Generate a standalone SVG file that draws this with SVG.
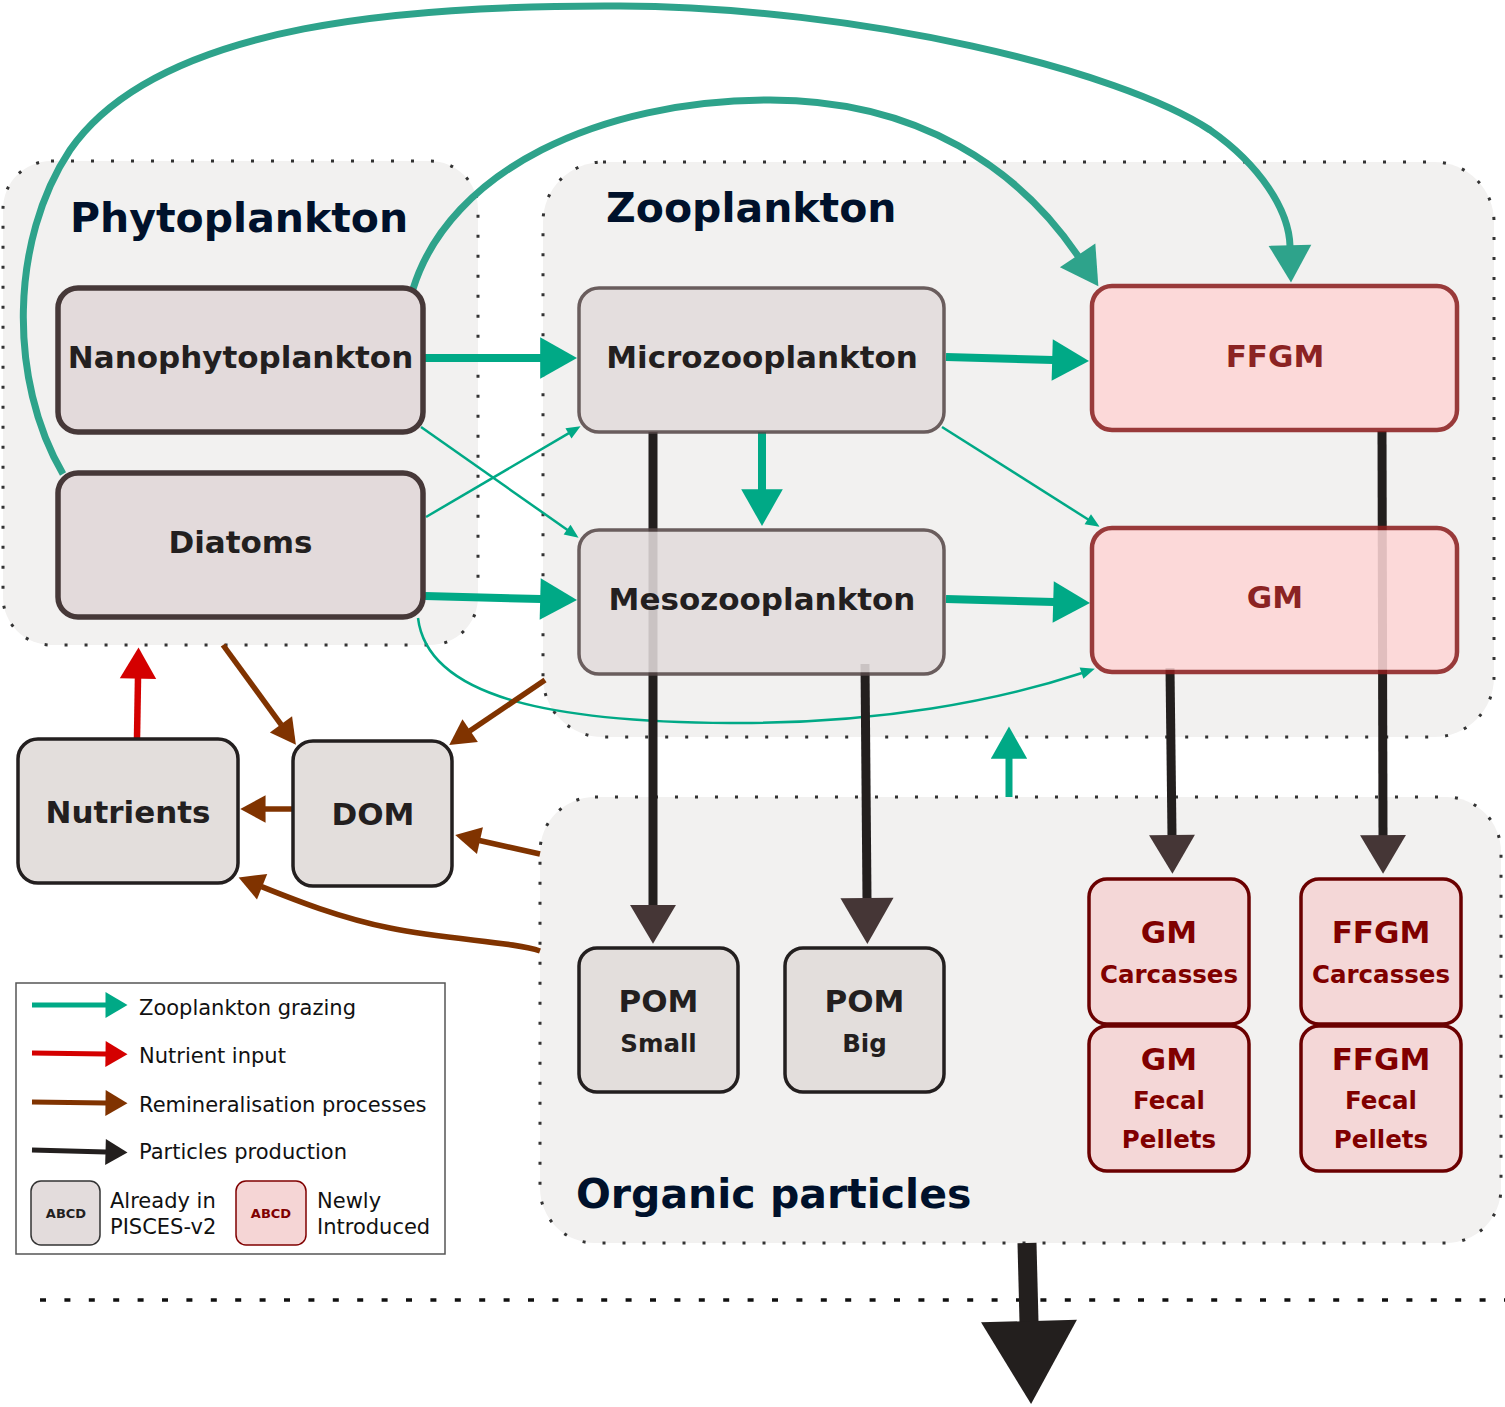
<svg xmlns="http://www.w3.org/2000/svg" width="1505" height="1407" viewBox="0 0 1505 1407">
<style>
.grp{fill:#f2f1f0;stroke:#333;stroke-width:3;stroke-dasharray:3 17}
.title{font-family:"DejaVu Sans",Verdana,sans-serif;font-weight:bold;font-size:41px;fill:#00112b}
.lbl{font-family:"DejaVu Sans",Verdana,sans-serif;font-weight:bold;font-size:31px;fill:#231f1f;text-anchor:middle}
.sub{font-size:24.5px}
.phy{fill:#e3dadb;stroke:#463838;stroke-width:5.5}
.zoo{fill:#e3dcdc;stroke:#564848;stroke-width:3.5;opacity:0.87}
.new{fill:#fed6d6;stroke:#8c2020;stroke-width:4.5;opacity:0.87}
.old{fill:#e3dedc;stroke:#231f1f;stroke-width:3.5}
.newp{fill:#f4d7d7;stroke:#6b0000;stroke-width:3.5}
.rtxt{fill:#8b2323}
.ptxt{fill:#800000}
.c{fill:none;stroke-linecap:butt}
.cur{stroke:#2ea38b;stroke-width:7}
.grn{stroke:#00a986;stroke-width:8}
.thin{stroke:#00a986;stroke-width:2.5}
.red{stroke:#d40000;stroke-width:6.5}
.brn{stroke:#803300;stroke-width:5.5}
.blk{stroke:#231f1e;stroke-width:9}
.leg{font-family:"DejaVu Sans",Verdana,sans-serif;font-size:21px;fill:#111}
</style>
<defs>
<marker id="ah-cur" markerUnits="strokeWidth" markerWidth="5.3" markerHeight="6.1" refX="0.1" refY="3.05" orient="auto" overflow="visible"><path d="M0,0 L5.3,3.05 L0,6.1 z" fill="#2ea38b"/></marker>
<marker id="ah-grn" markerUnits="strokeWidth" markerWidth="4.6" markerHeight="5.2" refX="0.1" refY="2.6" orient="auto" overflow="visible"><path d="M0,0 L4.6,2.6 L0,5.2 z" fill="#00a986"/></marker>
<marker id="ah-thin" markerUnits="strokeWidth" markerWidth="5.6" markerHeight="4.8" refX="0.2" refY="2.4" orient="auto" overflow="visible"><path d="M0,0 L5.6,2.4 L0,4.8 z" fill="#00a986"/></marker>
<marker id="ah-red" markerUnits="strokeWidth" markerWidth="4.8" markerHeight="5.6" refX="0.1" refY="2.8" orient="auto" overflow="visible"><path d="M0,0 L4.8,2.8 L0,5.6 z" fill="#d40000"/></marker>
<marker id="ah-brn" markerUnits="strokeWidth" markerWidth="4.6" markerHeight="5" refX="0.1" refY="2.5" orient="auto" overflow="visible"><path d="M0,0 L4.6,2.5 L0,5 z" fill="#803300"/></marker>
<marker id="ah-blk" markerUnits="strokeWidth" markerWidth="4.3" markerHeight="5.1" refX="0.1" refY="2.55" orient="auto" overflow="visible"><path d="M0,0 L4.3,2.55 L0,5.1 z" fill="#453636"/></marker>
<marker id="ah-blk-l" markerUnits="strokeWidth" markerWidth="5.1" markerHeight="5.9" refX="0.1" refY="2.95" orient="auto" overflow="visible"><path d="M0,0 L5.1,2.95 L0,5.9 z" fill="#453636"/></marker>
<marker id="ah-blk-xl" markerUnits="strokeWidth" markerWidth="4.37" markerHeight="5.05" refX="0.05" refY="2.525" orient="auto" overflow="visible"><path d="M0,0 L4.37,2.525 L0,5.05 z" fill="#231f1e"/></marker>
<marker id="lg-grn" markerUnits="strokeWidth" markerWidth="4.4" markerHeight="5.2" refX="0.1" refY="2.6" orient="auto" overflow="visible"><path d="M0,0 L4.4,2.6 L0,5.2 z" fill="#00a986"/></marker>
<marker id="lg-red" markerUnits="strokeWidth" markerWidth="4.4" markerHeight="5.2" refX="0.1" refY="2.6" orient="auto" overflow="visible"><path d="M0,0 L4.4,2.6 L0,5.2 z" fill="#d40000"/></marker>
<marker id="lg-brn" markerUnits="strokeWidth" markerWidth="4.4" markerHeight="5.2" refX="0.1" refY="2.6" orient="auto" overflow="visible"><path d="M0,0 L4.4,2.6 L0,5.2 z" fill="#803300"/></marker>
<marker id="lg-blk" markerUnits="strokeWidth" markerWidth="4.4" markerHeight="5.2" refX="0.1" refY="2.6" orient="auto" overflow="visible"><path d="M0,0 L4.4,2.6 L0,5.2 z" fill="#231f1e"/></marker>
</defs>
<rect width="1505" height="1407" fill="#ffffff"/>

<g id="group-phytoplankton">
<rect class="grp" x="3" y="161" width="475" height="484" rx="48"/>
<text class="title" x="70" y="232">Phytoplankton</text>
</g>
<g id="group-zooplankton">
<rect class="grp" x="543" y="162" width="951" height="575" rx="60"/>
<text class="title" x="606" y="222">Zooplankton</text>
</g>
<g id="group-organic-particles">
<rect class="grp" x="540" y="797" width="961" height="446" rx="55"/>
<text class="title" x="576" y="1208">Organic particles</text>
</g>

<path d="M40,1300 L1505,1300" fill="none" stroke="#111" stroke-width="3.5" stroke-dasharray="6 18.4"/>

<g id="connectors">
<path class="c cur" d="M63,474 C8,380 10,240 70,150 C160,20 420,5 620,6 C860,7 1120,70 1210,130 C1260,165 1289,210 1290,246" marker-end="url(#ah-cur)"/>
<path class="c cur" d="M413,289 C450,170 600,100 770,100 C920,100 1020,170 1078,256" marker-end="url(#ah-cur)"/>
<path class="c grn" d="M425,358 L541,358" marker-end="url(#ah-grn)"/>
<path class="c grn" d="M425,596 L541,599" marker-end="url(#ah-grn)"/>
<path class="c grn" d="M946,357 L1053,360" marker-end="url(#ah-grn)"/>
<path class="c grn" d="M946,599 L1054,602" marker-end="url(#ah-grn)"/>
<path class="c grn" d="M762,432 L762,490" marker-end="url(#ah-grn)"/>
<path class="c thin" d="M421,427 L567.5,530" marker-end="url(#ah-thin)"/>
<path class="c thin" d="M426,517 L568.9,433.1" marker-end="url(#ah-thin)"/>
<path class="c thin" d="M942,427 L1088.2,519.5" marker-end="url(#ah-thin)"/>
<path class="c thin" d="M418,618 C428,700 560,722 730,723 C880,724 1000,700 1082,673" marker-end="url(#ah-thin)"/>
<path class="c grn" style="stroke-width:7" d="M1009,797 L1009,758" marker-end="url(#ah-grn)"/>
<path class="c red" d="M137,738 L138,678" marker-end="url(#ah-red)"/>
<path class="c brn" d="M223,645 L281.3,724.8" marker-end="url(#ah-brn)"/>
<path class="c brn" d="M545,680 L469.7,731" marker-end="url(#ah-brn)"/>
<path class="c brn" d="M293,809 L265,809" marker-end="url(#ah-brn)"/>
<path class="c brn" d="M540,854 L479.4,840.5" marker-end="url(#ah-brn)"/>
<path class="c brn" d="M540,951 C515,942 450,940 390,928 C340,918 295,900 261.6,886.6" marker-end="url(#ah-brn)"/>
<path class="c blk" d="M653,432 L653,906" marker-end="url(#ah-blk)"/>
<path class="c blk" d="M865,664 L867,899" marker-end="url(#ah-blk-l)"/>
<path class="c blk" d="M1170,668 L1172,836" marker-end="url(#ah-blk)"/>
<path class="c blk" d="M1382,431 L1383,836" marker-end="url(#ah-blk)"/>
<path class="c" stroke="#231f1e" stroke-width="19" d="M1027,1243 L1029,1322" marker-end="url(#ah-blk-xl)"/>
</g>

<g id="node-nanophytoplankton">
<rect class="phy" x="58" y="288" width="365" height="144" rx="20"/>
<text class="lbl" x="240.5" y="368">Nanophytoplankton</text>
</g>
<g id="node-diatoms">
<rect class="phy" x="58" y="473" width="365" height="144" rx="20"/>
<text class="lbl" x="240.5" y="553">Diatoms</text>
</g>
<g id="node-microzooplankton">
<rect class="zoo" x="579" y="288" width="365" height="144" rx="20"/>
<text class="lbl" x="762" y="368">Microzooplankton</text>
</g>
<g id="node-mesozooplankton">
<rect class="zoo" x="579" y="530" width="365" height="144" rx="20"/>
<text class="lbl" x="762" y="610">Mesozooplankton</text>
</g>
<g id="node-ffgm">
<rect class="new" x="1092" y="286" width="365" height="144" rx="20"/>
<text class="lbl rtxt" x="1275" y="367">FFGM</text>
</g>
<g id="node-gm">
<rect class="new" x="1092" y="528" width="365" height="144" rx="20"/>
<text class="lbl rtxt" x="1275" y="608">GM</text>
</g>
<g id="node-nutrients">
<rect class="old" x="18" y="739" width="220" height="144" rx="20"/>
<text class="lbl" x="128" y="823">Nutrients</text>
</g>
<g id="node-dom">
<rect class="old" x="293" y="741" width="159" height="145" rx="20"/>
<text class="lbl" x="373" y="825">DOM</text>
</g>
<g id="node-pom-small">
<rect class="old" x="579" y="948" width="159" height="144" rx="18"/>
<text class="lbl" x="658.5" y="1012">POM</text>
<text class="lbl sub" x="658.5" y="1052">Small</text>
</g>
<g id="node-pom-big">
<rect class="old" x="785" y="948" width="159" height="144" rx="18"/>
<text class="lbl" x="864.5" y="1012">POM</text>
<text class="lbl sub" x="864.5" y="1052">Big</text>
</g>
<g id="node-gm-carcasses">
<rect class="newp" x="1089" y="879" width="160" height="145" rx="18"/>
<text class="lbl ptxt" x="1169" y="943">GM</text>
<text class="lbl sub ptxt" x="1169" y="983">Carcasses</text>
</g>
<g id="node-gm-fecal-pellets">
<rect class="newp" x="1089" y="1026" width="160" height="145" rx="18"/>
<text class="lbl ptxt" x="1169" y="1070">GM</text>
<text class="lbl sub ptxt" x="1169" y="1109">Fecal</text>
<text class="lbl sub ptxt" x="1169" y="1148">Pellets</text>
</g>
<g id="node-ffgm-carcasses">
<rect class="newp" x="1301" y="879" width="160" height="145" rx="18"/>
<text class="lbl ptxt" x="1381" y="943">FFGM</text>
<text class="lbl sub ptxt" x="1381" y="983">Carcasses</text>
</g>
<g id="node-ffgm-fecal-pellets">
<rect class="newp" x="1301" y="1026" width="160" height="145" rx="18"/>
<text class="lbl ptxt" x="1381" y="1070">FFGM</text>
<text class="lbl sub ptxt" x="1381" y="1109">Fecal</text>
<text class="lbl sub ptxt" x="1381" y="1148">Pellets</text>
</g>

<g id="legend">
<rect x="16" y="983" width="429" height="271" fill="#ffffff" stroke="#555" stroke-width="1.5"/>
<path class="c" stroke="#00a986" stroke-width="5" d="M32,1005 L106,1005" marker-end="url(#lg-grn)"/>
<path class="c" stroke="#d40000" stroke-width="5" d="M32,1053 L106,1054" marker-end="url(#lg-red)"/>
<path class="c" stroke="#803300" stroke-width="5" d="M32,1102 L106,1103" marker-end="url(#lg-brn)"/>
<path class="c" stroke="#231f1e" stroke-width="5" d="M32,1150 L106,1152" marker-end="url(#lg-blk)"/>
<text class="leg" x="139" y="1015">Zooplankton grazing</text>
<text class="leg" x="139" y="1063">Nutrient input</text>
<text class="leg" x="139" y="1112">Remineralisation processes</text>
<text class="leg" x="139" y="1159">Particles production</text>
<rect x="31" y="1181" width="69" height="64" rx="10" fill="#e3dcdc" stroke="#333" stroke-width="1.5"/>
<text class="lbl" style="font-size:13px" x="66" y="1218">ABCD</text>
<rect x="236" y="1181" width="70" height="64" rx="10" fill="#f5d5d5" stroke="#800000" stroke-width="1.5"/>
<text class="lbl ptxt" style="font-size:13px" x="271" y="1218">ABCD</text>
<text class="leg" x="110" y="1208">Already in</text>
<text class="leg" x="110" y="1234">PISCES-v2</text>
<text class="leg" x="317" y="1208">Newly</text>
<text class="leg" x="317" y="1234">Introduced</text>
</g>
</svg>
